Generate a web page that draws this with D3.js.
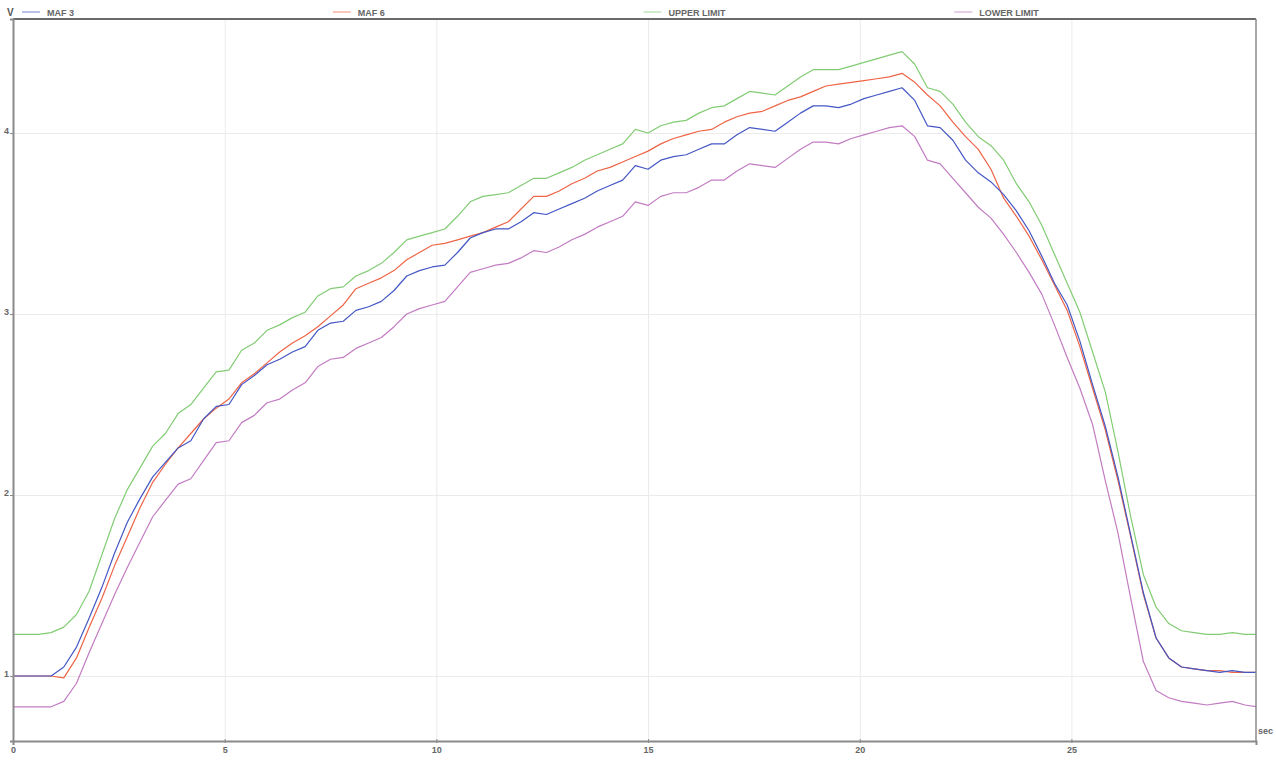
<!DOCTYPE html>
<html><head><meta charset="utf-8">
<script src="https://cdn.jsdelivr.net/npm/d3@7"></script>
<style>
html,body{margin:0;padding:0;background:#fff;}
svg{display:block;}
text{font-family:"Liberation Sans",Arial,sans-serif;}
</style></head>
<body>
<svg id="c" width="1276" height="763"></svg>
<script>
// sampling grid (seconds), 0.3 s step
const times = d3.range(99).map(i => +(i * 0.3).toFixed(1));

const seriesNames = ["MAF 3", "MAF 6", "UPPER LIMIT", "LOWER LIMIT"];
const seriesColors = ["#4457c4", "#ee6446", "#82cc74", "#c27cc2"];
const xTicks = [0, 5, 10, 15, 20, 25];
const yTicks = [1, 2, 3, 4];

const maf3 = [1.00,1.00,1.00,1.00,1.05,1.16,1.32,1.49,1.68,1.85,1.98,2.10,2.18,2.26,2.30,2.42,2.49,2.50,2.61,2.66,
2.72,2.75,2.79,2.82,2.91,2.95,2.96,3.02,3.04,3.07,3.13,3.21,3.24,3.26,3.27,3.34,3.42,3.45,3.47,3.47,
3.51,3.56,3.55,3.58,3.61,3.64,3.68,3.71,3.74,3.82,3.80,3.85,3.87,3.88,3.91,3.94,3.94,3.99,4.03,4.02,
4.01,4.06,4.11,4.15,4.15,4.14,4.16,4.19,4.21,4.23,4.25,4.18,4.04,4.03,3.96,3.85,3.78,3.73,3.66,3.57,
3.46,3.32,3.17,3.05,2.85,2.61,2.38,2.10,1.78,1.46,1.21,1.10,1.05,1.04,1.03,1.02,1.03,1.02,1.02];

const maf6 = [1.00,1.00,1.00,1.00,0.99,1.10,1.27,1.43,1.61,1.77,1.93,2.07,2.17,2.26,2.34,2.42,2.48,2.53,2.62,2.67,
2.73,2.79,2.84,2.88,2.93,2.99,3.05,3.14,3.17,3.20,3.24,3.30,3.34,3.38,3.39,3.41,3.43,3.45,3.48,3.51,
3.58,3.65,3.65,3.68,3.72,3.75,3.79,3.81,3.84,3.87,3.90,3.94,3.97,3.99,4.01,4.02,4.06,4.09,4.11,4.12,
4.15,4.18,4.20,4.23,4.26,4.27,4.28,4.29,4.30,4.31,4.33,4.28,4.21,4.15,4.06,3.98,3.91,3.80,3.64,3.54,
3.43,3.30,3.16,3.02,2.82,2.59,2.36,2.08,1.77,1.45,1.21,1.10,1.05,1.04,1.03,1.03,1.02,1.02,1.02];

const upperLimit = [1.23,1.23,1.23,1.24,1.27,1.34,1.47,1.67,1.87,2.03,2.15,2.27,2.34,2.45,2.50,2.59,2.68,2.69,2.80,2.84,
2.91,2.94,2.98,3.01,3.10,3.14,3.15,3.21,3.24,3.28,3.34,3.41,3.43,3.45,3.47,3.54,3.62,3.65,3.66,3.67,
3.71,3.75,3.75,3.78,3.81,3.85,3.88,3.91,3.94,4.02,4.00,4.04,4.06,4.07,4.11,4.14,4.15,4.19,4.23,4.22,
4.21,4.26,4.31,4.35,4.35,4.35,4.37,4.39,4.41,4.43,4.45,4.38,4.25,4.23,4.16,4.06,3.98,3.93,3.85,3.72,
3.62,3.49,3.33,3.17,3.01,2.79,2.57,2.24,1.88,1.56,1.38,1.29,1.25,1.24,1.23,1.23,1.24,1.23,1.23];

const lowerLimit = [0.83,0.83,0.83,0.83,0.86,0.96,1.13,1.29,1.45,1.60,1.74,1.88,1.97,2.06,2.09,2.19,2.29,2.30,2.40,2.44,
2.51,2.53,2.58,2.62,2.71,2.75,2.76,2.81,2.84,2.87,2.93,3.00,3.03,3.05,3.07,3.15,3.23,3.25,3.27,3.28,
3.31,3.35,3.34,3.37,3.41,3.44,3.48,3.51,3.54,3.62,3.60,3.65,3.67,3.67,3.70,3.74,3.74,3.79,3.83,3.82,
3.81,3.86,3.91,3.95,3.95,3.94,3.97,3.99,4.01,4.03,4.04,3.98,3.85,3.83,3.75,3.67,3.59,3.53,3.44,3.34,
3.23,3.11,2.94,2.76,2.59,2.39,2.08,1.79,1.43,1.08,0.92,0.88,0.86,0.85,0.84,0.85,0.86,0.84,0.83];

const seriesValues = [maf3, maf6, upperLimit, lowerLimit];

const svg = d3.select("#c");
const L = 13, R = 1256, T = 19, B = 741;
const x = d3.scaleLinear().domain([0, 29.36]).range([L, R]);
const y = d3.scaleLinear().domain([0.641, 4.63]).range([B, T]);

// grid
svg.append("g").attr("transform", `translate(0,${B})`)
  .call(d3.axisBottom(x).tickValues(xTicks.slice(1)).tickSize(-(B - T)).tickFormat(""))
  .call(g => g.select(".domain").remove())
  .call(g => g.selectAll("line").attr("stroke", "#ebebeb").attr("stroke-width", 1));
svg.append("g").attr("transform", `translate(${L},0)`)
  .call(d3.axisLeft(y).tickValues(yTicks).tickSize(-(R - L)).tickFormat(""))
  .call(g => g.select(".domain").remove())
  .call(g => g.selectAll("line").attr("stroke", "#ebebeb").attr("stroke-width", 1));

// clip
svg.append("clipPath").attr("id", "clip").append("rect")
  .attr("x", L).attr("y", T).attr("width", R - L).attr("height", B - T);

const line = d3.line().x((d, i) => x(times[i])).y(d => y(d));
const gl = svg.append("g").attr("clip-path", "url(#clip)");
[2, 3, 1, 0].forEach(k => {
  gl.append("path").datum(seriesValues[k])
    .attr("d", line).attr("fill", "none")
    .attr("stroke", seriesColors[k]).attr("stroke-width", 1.2)
    .attr("stroke-linejoin", "round");
});

// frame
svg.append("line").attr("x1", L).attr("x2", R).attr("y1", T).attr("y2", T)
  .attr("stroke", "#6a6a6a").attr("stroke-width", 2);
svg.append("line").attr("x1", R).attr("x2", R).attr("y1", T).attr("y2", B)
  .attr("stroke", "#8a8a8a").attr("stroke-width", 1.5);

// axes
const xa = svg.append("g").attr("transform", `translate(0,${B})`)
  .call(d3.axisBottom(x).tickValues(xTicks).tickSize(4).tickPadding(2).tickFormat(d3.format("d")));
xa.select(".domain").attr("stroke", "#8a8a8a").attr("stroke-width", 2);
xa.selectAll(".tick line").attr("stroke", "#8a8a8a").attr("transform", "translate(0,-2)");
xa.selectAll("text").attr("fill", "#666").attr("font-size", 9).attr("font-weight", "bold");

const ya = svg.append("g").attr("transform", `translate(${L},0)`)
  .call(d3.axisLeft(y).tickValues(yTicks).tickSize(3).tickPadding(1).tickFormat(d3.format("d")));
ya.select(".domain").attr("stroke", "#8a8a8a").attr("stroke-width", 2);
ya.selectAll(".tick line").attr("stroke", "#8a8a8a");
ya.selectAll("text").attr("fill", "#666").attr("font-size", 9).attr("font-weight", "bold").attr("dy", "0.0em");

// unit labels
svg.append("text").attr("x", 7).attr("y", 16).text("V")
  .attr("fill", "#555").attr("font-size", 10).attr("font-weight", "bold");
svg.append("text").attr("x", R + 2).attr("y", 734).text("sec")
  .attr("fill", "#666").attr("font-size", 9).attr("font-weight", "bold");

// legend
const colW = (R - L) / 4;
seriesNames.forEach((n, k) => {
  const cx = L + k * colW;
  svg.append("line").attr("x1", cx + 9).attr("x2", cx + 27).attr("y1", 12).attr("y2", 12)
    .attr("stroke", seriesColors[k]).attr("stroke-width", 1.2).attr("opacity", 0.6);
  svg.append("text").attr("x", cx + 34).attr("y", 16).text(n)
    .attr("fill", "#666").attr("font-size", 9).attr("font-weight", "bold");
});
</script>
</body></html>
